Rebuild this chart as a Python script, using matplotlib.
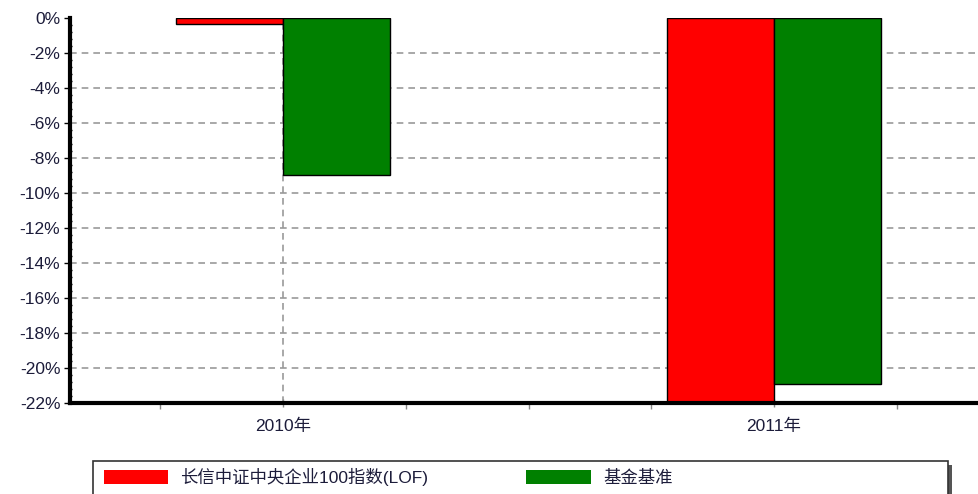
import numpy as np
import matplotlib.pyplot as plt
from matplotlib.patches import Patch, Rectangle
from matplotlib.ticker import MultipleLocator, AutoMinorLocator

plt.rcParams['font.family'] = ['Liberation Sans', 'Noto Sans CJK SC', 'DejaVu Sans']

# 数据
years = ['2010年', '2011年']
series_names = ['长信中证中央企业100指数(LOF)', '基金基准']
fund = [-0.35, -22.3]
bench = [-9.0, -20.9]
colors = ['#ff0000', '#008000']
yticks = list(range(0, -23, -2))

fig = plt.figure(figsize=(9.79, 4.94), dpi=100)
ax = fig.add_axes([70 / 979, 91 / 494, 917 / 979, 385 / 494])

x = np.arange(len(years))
w = 0.218
ax.bar(x - w / 2, fund, w, color=colors[0], edgecolor='black', linewidth=1, zorder=3)
ax.bar(x + w / 2, bench, w, color=colors[1], edgecolor='black', linewidth=1, zorder=3)

ax.set_xlim(-0.434, 1.434)
ax.set_ylim(-22, 0)

ax.set_yticks(yticks)
ax.set_yticklabels([f'{v}%' for v in yticks], fontsize=12.5, color='#1c1c3a')
ax.yaxis.set_minor_locator(AutoMinorLocator(5))
ax.set_xticks(x)
ax.set_xticklabels(years, fontsize=12.5, color='#1c1c3a')
ax.xaxis.set_minor_locator(MultipleLocator(0.25))

ax.tick_params(axis='y', which='major', length=4, width=1, direction='out', pad=3)
ax.tick_params(axis='y', which='minor', length=3, width=1, direction='inout')
ax.tick_params(axis='x', which='major', length=6, width=1, color='#888888', pad=8, direction='inout')
ax.tick_params(axis='x', which='minor', length=4, width=1, color='#888888', direction='out')

ax.grid(axis='y', which='major', linestyle=(0, (4, 3)), color='#999999', linewidth=1.2, zorder=1)
ax.grid(axis='x', which='major', linestyle=(0, (4, 3)), color='#999999', linewidth=1.2, zorder=1)
ax.get_ygridlines()[0].set_visible(False)

for side in ['top', 'right']:
    ax.spines[side].set_visible(False)
for side in ['left', 'bottom']:
    ax.spines[side].set_linewidth(3)
    ax.spines[side].set_zorder(4)

# 图例框
fig.patches.append(Rectangle((97 / 979, -0.1), 855 / 979, 0.1 + 29 / 494,
                             transform=fig.transFigure, facecolor='#555555',
                             edgecolor='none', zorder=0))
fig.patches.append(Rectangle((93 / 979, -0.1), 855 / 979, 0.1 + 33 / 494,
                             transform=fig.transFigure, facecolor='white',
                             edgecolor='#333333', linewidth=1.2, zorder=1))

handles = [Patch(facecolor=c, edgecolor='none') for c in colors]
fig.legend(handles, series_names, loc='center left',
           bbox_to_anchor=(104 / 979, 17 / 494), ncol=2, frameon=False,
           fontsize=12.5, handlelength=3.7, handleheight=0.8,
           handletextpad=0.7, columnspacing=5.65, borderpad=0,
           borderaxespad=0, labelcolor='#1c1c3a')

plt.savefig('out.png', dpi=100)
